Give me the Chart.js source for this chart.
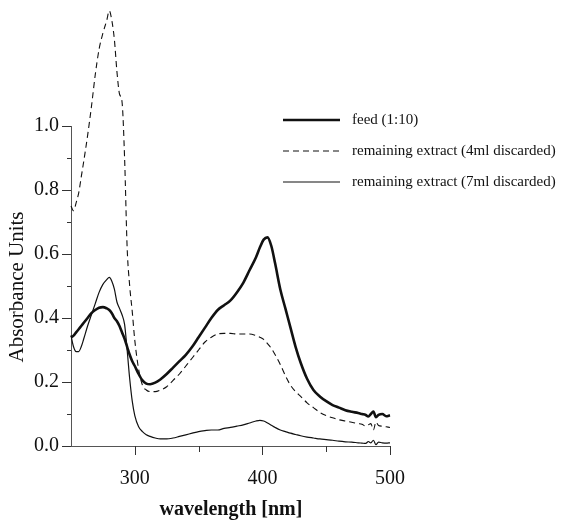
<!DOCTYPE html>
<html>
<head>
<meta charset="utf-8">
<script src="https://cdn.jsdelivr.net/npm/chart.js@4"></script>
<style>
  html, body { margin: 0; padding: 0; background: #fff; }
  #wrap { width: 564px; height: 526px; }
</style>
</head>
<body>
<div id="wrap"><canvas id="chart" width="564" height="526"></canvas></div>
<script>
// Wavelength grid [nm] shared by all three spectra
const wavelengths = [250, 252, 254, 256, 258, 260, 263, 266, 269, 272, 275, 278, 280, 282, 284, 286, 288, 290,
  292, 294, 296, 298, 300, 303, 306, 309, 312, 316, 320, 325, 330, 335, 340, 345, 350, 355, 360, 365, 370,
  375, 380, 385, 390, 395, 398, 401, 404, 407, 410, 414, 418, 422, 426, 430, 435, 440, 445, 450, 455, 460,
  465, 470, 475, 478, 481, 483, 485, 487, 489, 491, 494, 497, 500];

// feed (1:10)
const feed = [0.34, 0.345, 0.355, 0.365, 0.375, 0.385, 0.40, 0.415, 0.425, 0.432, 0.434, 0.43, 0.425, 0.415, 0.40, 0.39, 0.375, 0.355,
  0.335, 0.31, 0.285, 0.265, 0.25, 0.225, 0.205, 0.195, 0.193, 0.198, 0.208, 0.225, 0.245, 0.265, 0.285, 0.31, 0.34, 0.37, 0.40, 0.425, 0.44,
  0.455, 0.48, 0.51, 0.55, 0.59, 0.62, 0.645, 0.652, 0.625, 0.57, 0.49, 0.43, 0.37, 0.31, 0.26, 0.21, 0.175, 0.155, 0.14, 0.128, 0.12,
  0.112, 0.107, 0.103, 0.10, 0.097, 0.092, 0.10, 0.108, 0.09, 0.097, 0.10, 0.093, 0.096];

// remaining extract (4ml discarded)
const extract4 = [0.75, 0.735, 0.76, 0.79, 0.84, 0.89, 0.97, 1.06, 1.16, 1.24, 1.29, 1.33, 1.36, 1.33, 1.27, 1.17, 1.10, 1.075,
  0.90, 0.62, 0.50, 0.42, 0.33, 0.24, 0.19, 0.175, 0.17, 0.17, 0.175, 0.185, 0.205, 0.225, 0.25, 0.275, 0.30, 0.325, 0.34, 0.35, 0.352,
  0.352, 0.35, 0.35, 0.35, 0.345, 0.34, 0.333, 0.32, 0.305, 0.285, 0.255, 0.22, 0.19, 0.17, 0.155, 0.135, 0.12, 0.105, 0.095, 0.088, 0.082,
  0.078, 0.074, 0.07, 0.068, 0.062, 0.066, 0.07, 0.05, 0.075, 0.064, 0.062, 0.06, 0.058];

// remaining extract (7ml discarded)
const extract7 = [0.345, 0.31, 0.295, 0.295, 0.31, 0.335, 0.375, 0.41, 0.445, 0.48, 0.505, 0.52, 0.527, 0.515, 0.49, 0.45, 0.43, 0.41,
  0.38, 0.30, 0.21, 0.14, 0.095, 0.06, 0.045, 0.035, 0.03, 0.025, 0.022, 0.022, 0.025, 0.03, 0.035, 0.04, 0.045, 0.048, 0.05, 0.05, 0.055,
  0.058, 0.062, 0.066, 0.072, 0.078, 0.08, 0.078, 0.072, 0.065, 0.058, 0.05, 0.045, 0.04, 0.036, 0.032, 0.028, 0.025, 0.022, 0.02, 0.018, 0.015,
  0.013, 0.012, 0.01, 0.009, 0.008, 0.014, 0.01, 0.018, 0.004, 0.012, 0.01, 0.009, 0.01];

const seriesNames = ['feed (1:10)', 'remaining extract (4ml discarded)', 'remaining extract (7ml discarded)'];

// Tick values
const xMajorTicks = [300, 400, 500];
const xMinorTicks = [350, 450];
const yMajorTicks = [0, 0.2, 0.4, 0.6, 0.8, 1.0];
const yMinorTicks = [0.1, 0.3, 0.5, 0.7, 0.9];

const SERIF = "'Liberation Serif', 'DejaVu Serif', serif";
const INK = '#111';

function toPoints(values) {
  return wavelengths.map((w, i) => ({ x: w, y: values[i] }));
}

// Draws tick marks, axis titles and the legend
const decorPlugin = {
  id: 'decor',
  afterDraw(chart) {
    const ctx = chart.ctx;
    const xs = chart.scales.x;
    const ys = chart.scales.y;
    const xAxisY = ys.getPixelForValue(0);
    const yAxisX = xs.getPixelForValue(250);

    ctx.save();
    ctx.strokeStyle = '#333';
    ctx.lineWidth = 1;
    ctx.beginPath();
    xMajorTicks.forEach(v => {
      const px = Math.round(xs.getPixelForValue(v)) + 0.5;
      ctx.moveTo(px, xAxisY); ctx.lineTo(px, xAxisY + 9);
    });
    xMinorTicks.forEach(v => {
      const px = Math.round(xs.getPixelForValue(v)) + 0.5;
      ctx.moveTo(px, xAxisY); ctx.lineTo(px, xAxisY + 6);
    });
    yMajorTicks.forEach(v => {
      const py = Math.round(ys.getPixelForValue(v)) + 0.5;
      ctx.moveTo(yAxisX, py); ctx.lineTo(yAxisX - 9, py);
    });
    yMinorTicks.forEach(v => {
      const py = Math.round(ys.getPixelForValue(v)) + 0.5;
      ctx.moveTo(yAxisX, py); ctx.lineTo(yAxisX - 4, py);
    });
    ctx.stroke();

    // axis titles
    ctx.fillStyle = INK;
    ctx.textAlign = 'center';
    ctx.textBaseline = 'middle';
    ctx.font = 'bold 20px ' + SERIF;
    ctx.fillText('wavelength [nm]', 231, 510);

    ctx.save();
    ctx.translate(17, 287);
    ctx.rotate(-Math.PI / 2);
    ctx.font = '21px ' + SERIF;
    ctx.fillText('Absorbance Units', 0, 0);
    ctx.restore();

    // legend
    ctx.font = '15px ' + SERIF;
    ctx.textAlign = 'left';
    chart.data.datasets.forEach((ds, i) => {
      const rowY = 120 + i * 31;
      ctx.save();
      ctx.strokeStyle = ds.borderColor;
      ctx.lineWidth = ds.borderWidth;
      ctx.setLineDash(ds.borderDash || []);
      ctx.beginPath();
      ctx.moveTo(283, rowY);
      ctx.lineTo(340, rowY);
      ctx.stroke();
      ctx.restore();
      ctx.fillText(ds.label, 352, rowY);
    });
    ctx.restore();
  }
};

new Chart(document.getElementById('chart'), {
  type: 'line',
  data: {
    datasets: [
      { label: seriesNames[0], data: toPoints(feed), borderColor: INK, borderWidth: 2.6, borderDash: [] },
      { label: seriesNames[1], data: toPoints(extract4), borderColor: INK, borderWidth: 1.1, borderDash: [6, 4] },
      { label: seriesNames[2], data: toPoints(extract7), borderColor: INK, borderWidth: 1.2, borderDash: [] },
    ].map(ds => Object.assign(ds, { pointRadius: 0, fill: false, clip: false, cubicInterpolationMode: 'monotone' })),
  },
  options: {
    responsive: false,
    animation: false,
    layout: { padding: { left: 0, top: 126, right: 174, bottom: 0 } },
    plugins: { legend: { display: false }, tooltip: { enabled: false } },
    scales: {
      x: {
        type: 'linear',
        min: 250,
        max: 500,
        afterBuildTicks: s => { s.ticks = xMajorTicks.map(v => ({ value: v })); },
        afterFit: s => { s.height = 80; },
        grid: { display: false },
        border: { display: true, color: '#555', width: 1, dash: [9, 3] },
        ticks: { color: INK, font: { family: SERIF, size: 20 }, padding: 13, maxRotation: 0 },
      },
      y: {
        type: 'linear',
        min: 0,
        max: 1.0,
        afterBuildTicks: s => { s.ticks = yMajorTicks.map(v => ({ value: v })); },
        afterFit: s => { s.width = 71; },
        grid: { display: false },
        border: { display: true, color: '#555', width: 1 },
        ticks: { color: INK, font: { family: SERIF, size: 20 }, padding: 4, callback: v => v.toFixed(1) },
      },
    },
  },
  plugins: [decorPlugin],
});
</script>
</body>
</html>
